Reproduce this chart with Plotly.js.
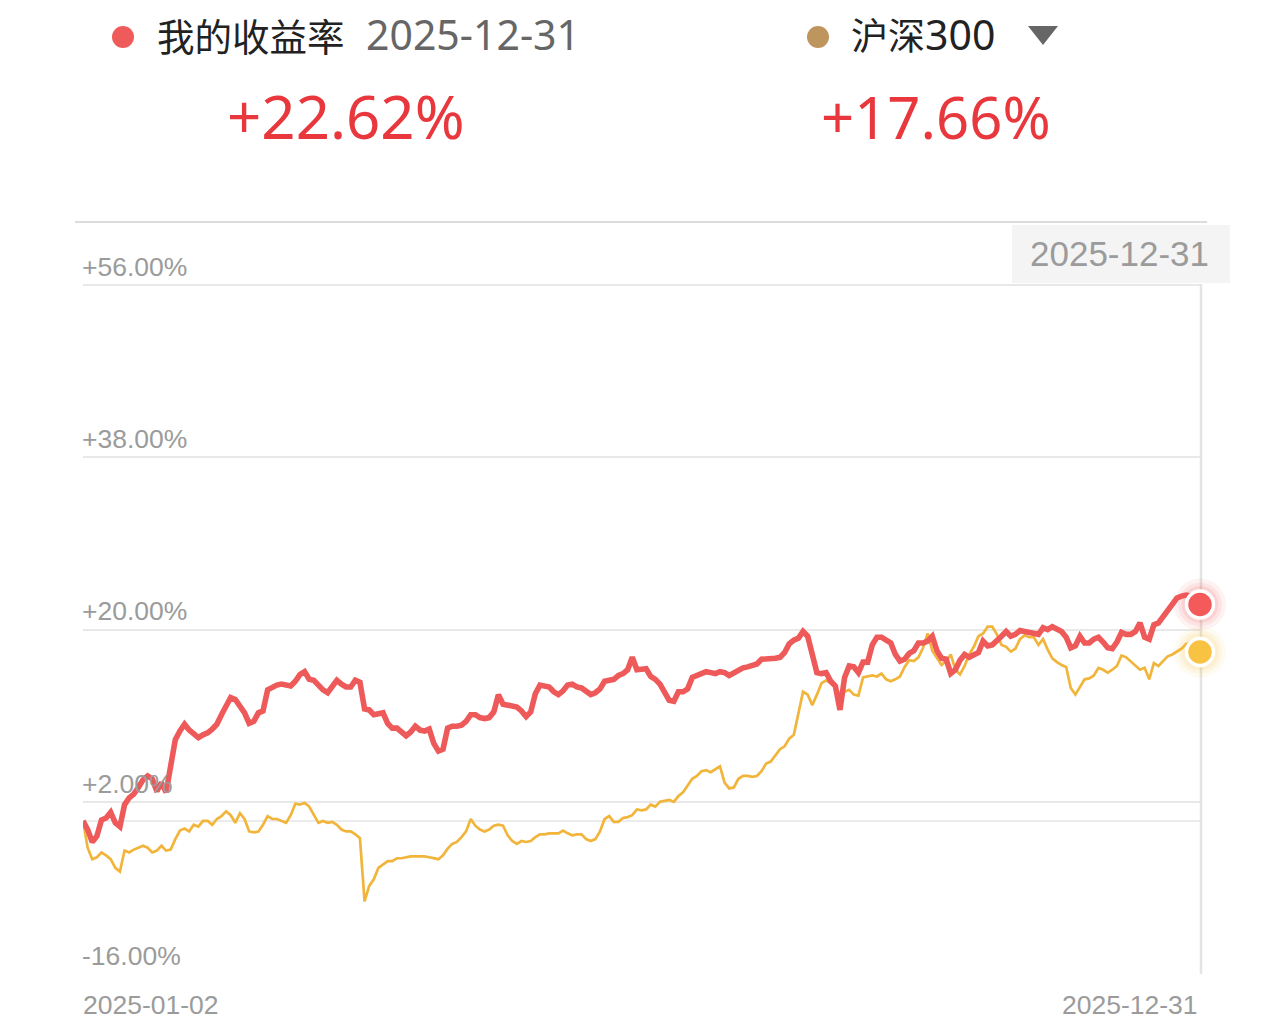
<!DOCTYPE html>
<html>
<head>
<meta charset="utf-8">
<script src="https://cdn.plot.ly/plotly-3.0.1.min.js"></script>
<style>
  html, body { margin: 0; padding: 0; background: #ffffff; }
  #chart { width: 1284px; height: 1034px; }
</style>
</head>
<body>
<div id="chart"></div>
<script>
// ---- data (trading-day index is implicit: 0 = 2025-01-02, last = 2025-12-31) ----
const seriesNames = ["我的收益率", "沪深", "300"];
const startDate = "2025-01-02";
const endDate = "2025-12-31";
const myReturn = [
  0.0, -0.9, -2.2, -1.6, 0.1, 0.3, 0.9, -0.2, -0.6, 1.7,
  2.4, 2.8, 3.5, 4.3, 4.7, 4.4, 3.1, 4.0, 3.0, 5.4,
  8.5, 9.4, 10.1, 9.5, 9.0, 8.7, 9.0, 9.2, 9.6, 10.1,
  11.1, 12.1, 12.9, 12.7, 12.1, 11.3, 10.2, 10.4, 11.3, 11.5,
  13.7, 14.0, 14.2, 14.3, 14.2, 14.1, 14.6, 15.3, 15.6, 14.8,
  14.7, 14.1, 13.7, 13.4, 14.1, 14.7, 14.3, 14.0, 14.0, 14.7,
  14.5, 11.7, 11.6, 11.1, 11.2, 11.3, 10.2, 9.7, 9.7, 9.3,
  8.9, 9.3, 9.9, 9.5, 9.4, 9.6, 8.1, 7.3, 7.5, 9.7,
  9.9, 9.9, 10.0, 10.4, 11.1, 11.1, 10.8, 10.7, 10.8, 11.4,
  13.2, 12.2, 12.1, 12.0, 11.9, 11.5, 10.9, 11.4, 13.3, 14.2,
  14.1, 14.0, 13.5, 13.2, 13.6, 14.2, 14.3, 14.0, 13.9, 13.6,
  13.2, 13.4, 13.8, 14.6, 14.7, 14.8, 15.2, 15.4, 15.8, 17.1,
  15.8, 15.9, 15.9, 15.1, 14.8, 14.3, 13.5, 12.6, 12.5, 13.5,
  13.5, 13.8, 15.0, 15.2, 15.3, 15.6, 15.5, 15.4, 15.6, 15.5,
  15.2, 15.5, 15.8, 16.0, 16.1, 16.3, 16.4, 16.9, 16.9, 17.0,
  17.0, 17.1, 17.6, 18.5, 18.9, 19.1, 19.8, 19.3, 17.3, 15.5,
  15.4, 15.5, 14.6, 14.1, 11.6, 15.0, 16.2, 16.1, 15.5, 16.6,
  16.6, 18.4, 19.2, 19.2, 18.9, 18.6, 17.4, 16.7, 16.9, 17.5,
  17.8, 18.6, 18.6, 18.8, 19.3, 17.8, 17.0, 16.9, 15.4, 15.8,
  16.8, 17.4, 17.1, 17.3, 17.6, 18.8, 18.3, 18.4, 18.8, 19.3,
  19.8, 19.3, 19.5, 19.9, 19.8, 19.7, 19.7, 19.5, 20.2, 20.0,
  20.3, 20.0, 19.8, 19.2, 18.1, 18.3, 19.3, 18.6, 18.6, 19.0,
  19.2, 18.7, 18.1, 18.0, 18.7, 19.7, 19.5, 19.5, 19.8, 20.7,
  19.2, 19.0, 20.5, 20.7, 21.4, 22.1, 22.6, 23.3, 23.5, 23.6,
  23.5, 23.0, 22.62
];
const hs300 = [
  0.0, -2.8, -4.0, -3.8, -3.3, -3.6, -4.0, -4.9, -5.3, -3.1,
  -3.3, -3.0, -2.8, -2.6, -2.8, -3.3, -3.1, -2.6, -3.1, -3.0,
  -1.9, -1.0, -0.8, -1.1, -0.4, -0.6, 0.0, 0.0, -0.4, 0.2,
  0.5, 1.0, 0.6, -0.2, 0.8, 0.2, -1.1, -1.2, -1.1, -0.4,
  0.5, 0.2, 0.2, 0.0, -0.2, 0.6, 1.8, 1.7, 1.9, 1.5,
  0.6, -0.2, 0.0, -0.2, -0.1, -0.4, -0.9, -1.1, -1.1, -1.4,
  -1.8, -8.4, -6.8, -6.1, -4.9, -4.5, -4.2, -4.2, -3.9, -3.9,
  -3.8, -3.7, -3.7, -3.7, -3.7, -3.8, -3.9, -4.0, -3.6, -2.9,
  -2.4, -2.2, -1.7, -1.1, 0.2, -0.5, -0.9, -1.1, -0.9, -0.5,
  -0.4, -0.5, -1.5, -2.1, -2.4, -2.1, -2.2, -2.1, -1.7, -1.4,
  -1.4, -1.3, -1.3, -1.3, -1.0, -1.3, -1.5, -1.4, -1.4, -1.9,
  -2.1, -1.9, -1.1, 0.2, 0.5, -0.1, -0.1, 0.3, 0.4, 0.6,
  1.2, 1.1, 1.2, 1.7, 1.5, 2.0, 2.1, 2.2, 2.0, 2.6,
  3.0, 3.7, 4.4, 4.7, 5.2, 5.3, 5.1, 5.4, 5.7, 4.0,
  3.4, 3.5, 4.4, 4.7, 4.7, 4.6, 4.7, 5.2, 6.0, 6.2,
  6.8, 7.5, 7.8, 8.6, 9.0, 11.4, 13.5, 13.2, 12.1, 13.2,
  14.4, 14.7, 14.4, 14.0, 13.2, 13.5, 13.7, 13.2, 13.1, 15.0,
  15.1, 15.2, 15.1, 15.4, 14.8, 14.6, 14.8, 15.1, 16.1, 16.8,
  16.7, 17.1, 18.1, 19.6, 17.8, 17.0, 16.3, 16.7, 17.4, 15.8,
  15.3, 16.2, 17.4, 18.2, 19.3, 19.6, 20.3, 20.3, 19.5, 18.4,
  18.2, 17.7, 18.0, 19.0, 19.4, 19.2, 19.2, 18.4, 19.0, 17.9,
  17.0, 16.6, 16.3, 16.1, 13.9, 13.2, 14.0, 14.8, 14.9, 15.2,
  16.0, 15.8, 15.5, 15.8, 16.2, 17.3, 17.1, 16.7, 16.3, 15.8,
  16.0, 14.8, 16.5, 16.2, 16.7, 17.2, 17.4, 17.7, 18.0, 18.5,
  18.6, 18.2, 17.66
];
const yTickVals = [-16, 2, 20, 38, 56];
const yTickText = ["-16.00%", "+2.00%", "+20.00%", "+38.00%", "+56.00%"];
const myFinal = "+22.62%";
const hsFinal = "+17.66%";

// ---- layout helpers (pixel -> paper) ----
const L = 83, R = 1200, T = 222, B = 974;
const px = x => (x - L) / (R - L);
const py = y => (B - y) / (B - T);
const lastIdx = myReturn.length - 1;

const RED = "#ee5a5a", ORANGE = "#f0b53a";

function glow(val, rgb) {
  return [52, 44, 37].map((s, i) => ({
    x: [lastIdx], y: [val], mode: "markers", cliponaxis: false, hoverinfo: "skip",
    marker: { size: s, color: `rgba(${rgb},${[0.07, 0.09, 0.12][i]})`, line: { width: 0 } }
  }));
}

const traces = [
  { y: hs300, type: "scatter", mode: "lines", line: { color: ORANGE, width: 2.7 }, name: "沪深300", hoverinfo: "skip" },
  { y: myReturn, type: "scatter", mode: "lines", line: { color: RED, width: 5.6 }, name: seriesNames[0], hoverinfo: "skip" },
  ...glow(myReturn[lastIdx], "242,80,80"),
  ...glow(hs300[lastIdx], "247,194,68"),
  { x: [lastIdx], y: [myReturn[lastIdx]], mode: "markers", cliponaxis: false, hoverinfo: "skip",
    marker: { size: 27, color: "#f45a5a", line: { width: 3.5, color: "#ffffff" } } },
  { x: [lastIdx], y: [hs300[lastIdx]], mode: "markers", cliponaxis: false, hoverinfo: "skip",
    marker: { size: 27, color: "#f8c343", line: { width: 3.5, color: "#ffffff" } } }
];

const axisFont = { family: "Liberation Sans, Arial, sans-serif", size: 26.5, color: "#9b9b9b" };

const layout = {
  width: 1284, height: 1034,
  margin: { l: L, r: 1284 - R, t: T, b: 1034 - B, pad: 0 },
  paper_bgcolor: "#ffffff", plot_bgcolor: "#ffffff",
  showlegend: false, hovermode: false,
  xaxis: { range: [0, lastIdx], showgrid: false, zeroline: false, showticklabels: false, showline: false, fixedrange: true },
  yaxis: {
    range: [-16, 62.6], tickvals: yTickVals, ticktext: yTickText,
    ticklabelposition: "inside top", ticklabelstandoff: -4, tickfont: axisFont,
    showgrid: true, gridcolor: "#e8e8e8", gridwidth: 2,
    zeroline: true, zerolinecolor: "#ececec", zerolinewidth: 1.5,
    showline: false, ticks: "", fixedrange: true
  },
  shapes: [
    { type: "line", xref: "paper", yref: "paper", x0: px(75), x1: px(1207), y0: 1, y1: 1, line: { color: "#dcdcdc", width: 2 } },
    { type: "line", xref: "paper", yref: "paper", x0: px(1201), x1: px(1201), y0: 0, y1: py(284), line: { color: "#e4e4e4", width: 2.5 }, layer: "below" },
    { type: "rect", xref: "paper", yref: "paper", x0: px(1012), x1: px(1230), y0: py(283), y1: py(225), fillcolor: "#f4f4f4", line: { width: 0 } },
    { type: "circle", xref: "paper", yref: "paper", x0: px(112), x1: px(134), y0: py(48), y1: py(26), fillcolor: "#ef5b5b", line: { width: 0 } },
    { type: "circle", xref: "paper", yref: "paper", x0: px(807), x1: px(829), y0: py(48), y1: py(26), fillcolor: "#bf955e", line: { width: 0 } },
    { type: "path", xref: "paper", yref: "paper",
      path: `M ${px(1028)} ${py(26)} L ${px(1058)} ${py(26)} L ${px(1043)} ${py(45)} Z`,
      fillcolor: "#666666", line: { width: 0 } }
  ],
  annotations: [
    { xref: "paper", yref: "paper", x: px(155), y: py(34), xanchor: "left", yanchor: "middle", showarrow: false,
      text: seriesNames[0], font: { family: "Noto Sans CJK SC", size: 37.5, color: "#222222" } },
    { xref: "paper", yref: "paper", x: px(364), y: py(34), xanchor: "left", yanchor: "middle", showarrow: false,
      text: endDate, font: { family: "Noto Sans", size: 41, color: "#666666" } },
    { xref: "paper", yref: "paper", x: px(849), y: py(34), xanchor: "left", yanchor: "middle", showarrow: false,
      text: seriesNames[1] + `<span style="font-family:'Noto Sans';font-size:41px">${seriesNames[2]}</span>`,
      font: { family: "Noto Sans CJK SC", size: 37, color: "#222222" } },
    { xref: "paper", yref: "paper", x: px(346), y: py(116), xanchor: "center", yanchor: "middle", showarrow: false,
      text: myFinal, font: { family: "Noto Sans", size: 60, color: "#e8383d" } },
    { xref: "paper", yref: "paper", x: px(936), y: py(116), xanchor: "center", yanchor: "middle", showarrow: false,
      text: hsFinal, font: { family: "Noto Sans", size: 58, color: "#e8383d" } },
    { xref: "paper", yref: "paper", x: px(1119), y: py(254), xanchor: "center", yanchor: "middle", showarrow: false,
      text: endDate, font: { family: "Liberation Sans, Arial, sans-serif", size: 35, color: "#9b9b9b" } },
    { xref: "x", yref: "paper", x: 0, y: py(1005), xanchor: "left", yanchor: "middle", showarrow: false, xshift: -2,
      text: startDate, font: axisFont },
    { xref: "x", yref: "paper", x: lastIdx, y: py(1005), xanchor: "right", yanchor: "middle", showarrow: false, xshift: 0,
      text: endDate, font: axisFont }
  ]
};

Plotly.newPlot("chart", traces, layout, { staticPlot: true, displayModeBar: false });
</script>
</body>
</html>
